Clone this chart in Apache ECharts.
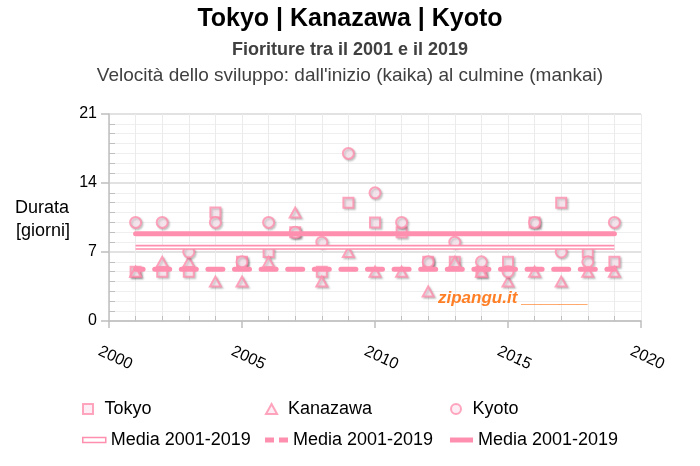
<!DOCTYPE html>
<html>
<head>
<meta charset="utf-8">
<title>Tokyo | Kanazawa | Kyoto</title>
<script src="https://cdn.jsdelivr.net/npm/echarts@6.0.0/dist/echarts.min.js"></script>
<style>
    html, body { margin: 0; padding: 0; background: #fff; }
    #main { width: 700px; height: 466px; }
</style>
</head>
<body>
<div id="main"></div>
<script type="text/javascript">
    // dati: giorni tra kaika e mankai
    var anni     = [2001, 2002, 2003, 2004, 2005, 2006, 2007, 2008, 2009, 2010, 2011, 2012, 2013, 2014, 2015, 2016, 2017, 2018, 2019];
    var tokyo    = [5, 5, 5, 11, 6, 7, 9, 5, 12, 10, 9, 6, 6, 5, 6, 10, 12, 7, 6];
    var kanazawa = [5, 6, 6, 4, 4, 6, 11, 4, 7, 5, 5, 3, 6, 5, 4, 5, 4, 5, 5];
    var kyoto    = [10, 10, 7, 10, 6, 10, 9, 8, 17, 13, 10, 6, 8, 6, 5, 10, 7, 6, 10];

    // medie 2001-2019
    var periodoMedia  = [2001, 2019];
    var mediaTokyo    = 7.47;
    var mediaKanazawa = 5.26;
    var mediaKyoto    = 8.84;

    var yTicks = [0, 7, 14, 21];
    var xTicks = [2000, 2005, 2010, 2015, 2020];

    var font = 'Liberation Sans';
    var rosa = '#ff8fae';
    var rosaChiaro = '#fdeaf2';
    var ombra = {shadowBlur: 2, shadowColor: 'rgba(0,0,0,0.22)', shadowOffsetX: 1.5, shadowOffsetY: 1.5};
    var noOmbra = {shadowBlur: 0, shadowColor: 'rgba(0,0,0,0)', shadowOffsetX: 0, shadowOffsetY: 0};

    function punti(valori) {
        return anni.map(function (a, i) { return [a, valori[i]]; });
    }
    function lineaMedia(m) {
        return [[periodoMedia[0], m], [periodoMedia[1], m]];
    }

    var etichette = {
        Tokyo: 'Tokyo', Kanazawa: 'Kanazawa', Kyoto: 'Kyoto',
        mediaTokyo: 'Media 2001-2019', mediaKanazawa: 'Media 2001-2019', mediaKyoto: 'Media 2001-2019'
    };

    function voce(nome, left, top, icona, h, stile) {
        return {
            left: left, top: top, padding: 0,
            itemWidth: 23, itemHeight: h, selectedMode: false,
            data: [{name: nome, icon: icona, itemStyle: stile}],
            formatter: function (n) { return etichette[n]; },
            textStyle: {fontSize: 18, color: '#000', fontFamily: font}
        };
    }

    var myChart = echarts.init(document.getElementById('main'));
    var option = {
        backgroundColor: '#fff',
        animation: false,
        title: [
            {text: 'Tokyo | Kanazawa | Kyoto', left: 'center', top: 7, padding: 0,
             textStyle: {fontSize: 25, fontWeight: 'bold', color: '#000', fontFamily: font}},
            {text: 'Fioriture tra il 2001 e il 2019', left: 'center', top: 41, padding: 0,
             textStyle: {fontSize: 18, fontWeight: 'bold', color: '#404040', fontFamily: font}},
            {text: "Velocità dello sviluppo: dall'inizio (kaika) al culmine (mankai)", left: 'center', top: 66, padding: 0,
             textStyle: {fontSize: 19, fontWeight: 'normal', color: '#404040', fontFamily: font}}
        ],
        legend: [
            voce('Tokyo', 82, 400, 'path://M0,0h10v10h-10z', 10, noOmbra),
            voce('Kanazawa', 265, 400, 'path://M5,0L10,9H0z', 10, noOmbra),
            voce('Kyoto', 450, 400, 'circle', 10, noOmbra),
            voce('mediaTokyo', 82, 431, 'rect', 5, {color: '#fff', borderColor: rosa, borderWidth: 1.5}),
            voce('mediaKanazawa', 265, 431, 'path://M0,0h9v5h-9zM14,0h9v5h-9z', 5, {color: rosa, borderWidth: 0}),
            voce('mediaKyoto', 450, 431, 'rect', 5, {color: rosa, borderWidth: 0})
        ],
        graphic: [
            {type: 'text', x: 15, y: 208, style: {text: 'Durata', fontSize: 18, fontFamily: font, fill: '#000', verticalAlign: 'middle'}},
            {type: 'text', x: 16, y: 231, style: {text: '[giorni]', fontSize: 18, fontFamily: font, fill: '#000', verticalAlign: 'middle'}},
            {type: 'text', x: 438, y: 298, z: 10, style: {text: 'zipangu.it _______', fontSize: 17, fontStyle: 'italic', fontWeight: 'bold', fontFamily: font, fill: '#ff7f27', verticalAlign: 'middle'}}
        ],
        grid: {left: 109, right: 59, top: 114, bottom: 145, outerBoundsMode: 'none'},
        xAxis: {
            type: 'value', min: xTicks[0], max: xTicks[xTicks.length - 1], interval: 5,
            axisLine: {show: true, lineStyle: {color: '#bfbfbf', width: 1.5}},
            axisTick: {show: true, length: 7, lineStyle: {color: '#bfbfbf', width: 1.5}},
            minorTick: {show: true, splitNumber: 5, length: -5, lineStyle: {color: '#bfbfbf'}},
            splitLine: {show: true, lineStyle: {color: '#ebebeb'}},
            minorSplitLine: {show: true, lineStyle: {color: '#ebebeb'}},
            axisLabel: {rotate: -25, margin: 34, align: 'center', verticalAlign: 'middle', padding: [0, 0, 0, 14],
                        fontSize: 16, color: '#000', fontFamily: font, showMinLabel: true, showMaxLabel: true,
                        formatter: function (v) { return String(v); }}
        },
        yAxis: {
            type: 'value', min: yTicks[0], max: yTicks[yTicks.length - 1], interval: 7,
            axisLine: {show: true, lineStyle: {color: '#bfbfbf', width: 1.5}},
            axisTick: {show: true, length: 8, lineStyle: {color: '#bfbfbf', width: 1.5}},
            minorTick: {show: true, splitNumber: 7, length: -6, lineStyle: {color: '#bfbfbf'}},
            splitLine: {show: true, lineStyle: {color: '#d9d9d9', width: 1.5}},
            minorSplitLine: {show: true, lineStyle: {color: '#efefef'}},
            axisLabel: {margin: 12, fontSize: 16, color: '#000', fontFamily: font}
        },
        series: [
            {name: 'mediaTokyo', type: 'line', data: lineaMedia(mediaTokyo), symbol: 'none', silent: true,
             itemStyle: {color: rosa}, lineStyle: {color: rosa, width: 5}},
            {name: 'mediaTokyoInterno', type: 'line', data: lineaMedia(mediaTokyo), symbol: 'none', silent: true,
             itemStyle: {color: '#fff'}, lineStyle: {color: '#fff', width: 1.8}},
            {name: 'mediaKanazawa', type: 'line', data: lineaMedia(mediaKanazawa), symbol: 'none', silent: true,
             itemStyle: {color: rosa}, lineStyle: {color: rosa, width: 5, type: [15, 11.6], dashOffset: 7.5, cap: 'round'}},
            {name: 'mediaKyoto', type: 'line', data: lineaMedia(mediaKyoto), symbol: 'none', silent: true,
             itemStyle: {color: rosa}, lineStyle: {color: rosa, width: 5, cap: 'round'}},
            {name: 'Tokyo', type: 'scatter', symbol: 'rect', symbolSize: 10, data: punti(tokyo),
             itemStyle: Object.assign({color: rosaChiaro, borderColor: rosa, borderWidth: 2}, ombra)},
            {name: 'Kanazawa', type: 'scatter', symbol: 'triangle', symbolSize: [11, 10], data: punti(kanazawa),
             itemStyle: Object.assign({color: rosaChiaro, borderColor: rosa, borderWidth: 2}, ombra)},
            {name: 'Kyoto', type: 'scatter', symbol: 'circle', symbolSize: 11, data: punti(kyoto),
             itemStyle: Object.assign({color: rosaChiaro, borderColor: rosa, borderWidth: 2}, ombra)}
        ]
    };
    myChart.setOption(option);
</script>
</body>
</html>
